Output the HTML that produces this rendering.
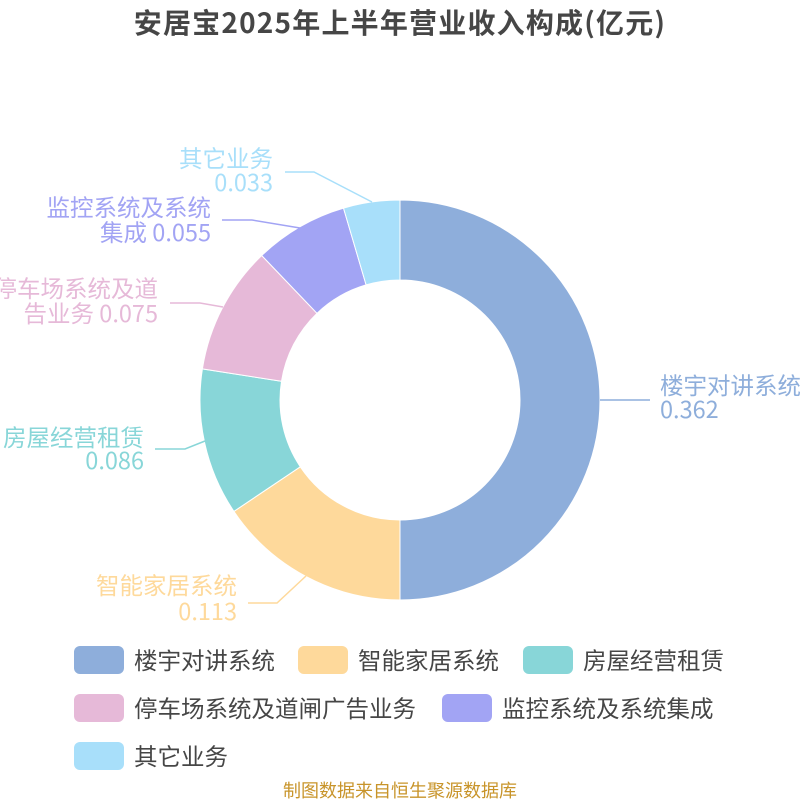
<!DOCTYPE html>
<html><head><meta charset="utf-8"><style>
body{margin:0;width:800px;height:800px;background:#fff;overflow:hidden}
svg{display:block}
text{font-family:"Noto Sans CJK SC","Liberation Sans",sans-serif}
</style></head><body>
<svg width="800" height="800" viewBox="0 0 800 800">
<text x="400" y="33" font-size="28" letter-spacing="1.2" font-weight="bold" fill="#464646" text-anchor="middle">安居宝2025年上半年营业收入构成(亿元)</text>
<g stroke="#fff" stroke-width="1">
<path d="M400,200 A200,200 0 0 1 400,600 L400,520 A120,120 0 0 0 400,280 Z" fill="#8eaedb"/>
<path d="M400,600 A200,200 0 0 1 233.9,511.4 L300.3,466.8 A120,120 0 0 0 400,520 Z" fill="#fed99b"/>
<path d="M233.9,511.4 A200,200 0 0 1 202.4,368.9 L281.5,381.3 A120,120 0 0 0 300.3,466.8 Z" fill="#88d6d8"/>
<path d="M202.4,368.9 A200,200 0 0 1 261.7,255.5 L317,313.3 A120,120 0 0 0 281.5,381.3 Z" fill="#e6b9d8"/>
<path d="M261.7,255.5 A200,200 0 0 1 343.5,208.1 L366.1,284.9 A120,120 0 0 0 317,313.3 Z" fill="#a2a4f4"/>
<path d="M343.5,208.1 A200,200 0 0 1 400,200 L400,280 A120,120 0 0 0 366.1,284.9 Z" fill="#a8dffa"/>
</g>
<g fill="none" stroke-width="1.5">
<polyline points="600,400 650,400" stroke="#8eaedb"/>
<polyline points="306,576 277,603 248,603" stroke="#fed99b"/>
<polyline points="205,441 185,449 155,449" stroke="#88d6d8"/>
<polyline points="223,307 200,303 170,303" stroke="#e6b9d8"/>
<polyline points="300,228 252,220 222,220" stroke="#a2a4f4"/>
<polyline points="372,202 314,172 285,172" stroke="#a8dffa"/>
</g>
<g font-size="23.5">
<text x="660" y="394" fill="#8eaedb">楼宇对讲系统</text>
<text x="660" y="418" fill="#8eaedb">0.362</text>
<g text-anchor="end">
<text x="237" y="594" fill="#fed99b">智能家居系统</text>
<text x="237" y="620" fill="#fed99b">0.113</text>
<text x="144" y="446" fill="#88d6d8">房屋经营租赁</text>
<text x="144" y="469" fill="#88d6d8">0.086</text>
<text x="158" y="297" fill="#e6b9d8">停车场系统及道</text>
<text x="158" y="322" fill="#e6b9d8">告业务 0.075</text>
<text x="211" y="216" fill="#a2a4f4">监控系统及系统</text>
<text x="211" y="241" fill="#a2a4f4">集成 0.055</text>
<text x="273" y="167" fill="#a8dffa">其它业务</text>
<text x="273" y="191" fill="#a8dffa">0.033</text>
</g>
</g>
<g font-size="23.5" fill="#464646">
<rect x="74" y="646" width="50" height="28" rx="6" fill="#8eaedb"/><text x="134" y="669">楼宇对讲系统</text>
<rect x="298" y="646" width="50" height="28" rx="6" fill="#fed99b"/><text x="358" y="669">智能家居系统</text>
<rect x="523" y="646" width="50" height="28" rx="6" fill="#88d6d8"/><text x="583" y="669">房屋经营租赁</text>
<rect x="74" y="694" width="50" height="28" rx="6" fill="#e6b9d8"/><text x="134" y="717">停车场系统及道闸广告业务</text>
<rect x="442" y="694" width="50" height="28" rx="6" fill="#a2a4f4"/><text x="502" y="717">监控系统及系统集成</text>
<rect x="74" y="742" width="50" height="28" rx="6" fill="#a8dffa"/><text x="134" y="765">其它业务</text>
</g>
<text x="400" y="797" font-size="18" fill="#c8942a" text-anchor="middle">制图数据来自恒生聚源数据库</text>
</svg>
</body></html>
